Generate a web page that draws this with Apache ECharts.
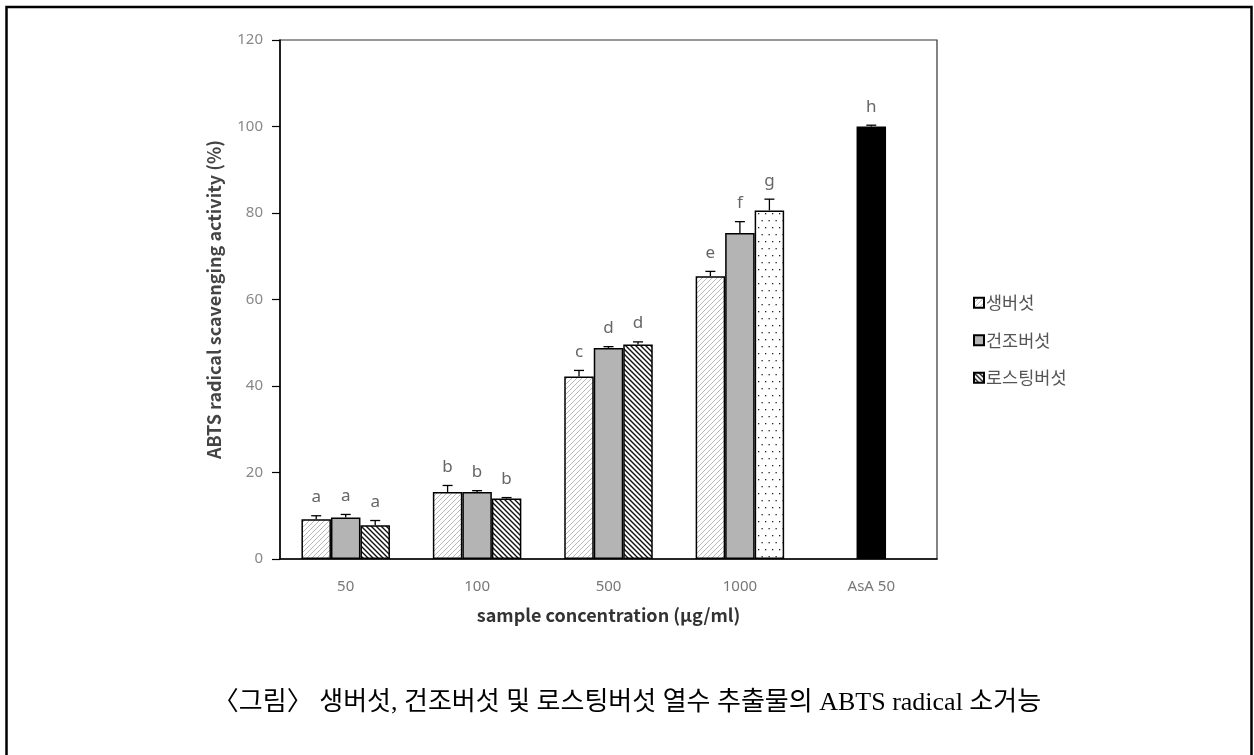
<!DOCTYPE html>
<html>
<head>
<meta charset="utf-8">
<script src="https://cdn.jsdelivr.net/npm/echarts@6/dist/echarts.min.js"></script>
<style>
  html, body { margin: 0; padding: 0; background: #fff; }
  #chart { width: 1254px; height: 755px; }
</style>
</head>
<body>
<div id="chart"></div>
<script>
// Sample concentrations (µg/ml) and the ascorbic acid reference
const categories = ['50', '100', '500', '1000', 'AsA 50'];

// ABTS radical scavenging activity (%) per extract
const rawValues    = [9.2, 15.5, 42.2, 65.4, null];
const driedValues  = [9.6, 15.5, 48.8, 75.4, 100.0];
const roastValues  = [7.8, 14.0, 49.6, 80.6, null];

// Standard deviations (upper error bars)
const rawErrors    = [0.8, 1.5, 1.4, 1.1, null];
const driedErrors  = [0.7, 0.3, 0.3, 2.6, 0.3];
const roastErrors  = [1.1, 0.2, 0.6, 2.6, null];

// Significance letters
const rawLetters   = ['a', 'b', 'c', 'e', null];
const driedLetters = ['a', 'b', 'd', 'f', 'h'];
const roastLetters = ['a', 'b', 'd', 'g', null];

const seriesNames = ['생버섯', '건조버섯', '로스팅버섯'];
const yTicks = [0, 20, 40, 60, 80, 100, 120];

const BAR_W = 29.5;
const FONT = '"Noto Sans", "Noto Sans CJK KR", sans-serif';
const KFONT = '"Noto Sans CJK KR", sans-serif';

// Fill patterns
function makePattern(w, h, draw) {
  const c = document.createElement('canvas');
  c.width = w; c.height = h;
  const ctx = c.getContext('2d');
  ctx.fillStyle = '#fff';
  ctx.fillRect(0, 0, w, h);
  draw(ctx);
  return { image: c, repeat: 'repeat' };
}
const lightSlash = makePattern(5, 5, ctx => {
  ctx.strokeStyle = '#b0b0b0';
  ctx.lineWidth = 0.9;
  ctx.beginPath();
  ctx.moveTo(-1, 6); ctx.lineTo(6, -1);
  ctx.moveTo(-1, 1); ctx.lineTo(1, -1);
  ctx.moveTo(4, 6); ctx.lineTo(6, 4);
  ctx.stroke();
});
const darkBackslash = makePattern(5, 5, ctx => {
  ctx.strokeStyle = '#111';
  ctx.lineWidth = 1.4;
  ctx.beginPath();
  ctx.moveTo(-1, -1); ctx.lineTo(6, 6);
  ctx.moveTo(4, -1); ctx.lineTo(6, 1);
  ctx.moveTo(-1, 4); ctx.lineTo(1, 6);
  ctx.stroke();
});
const dotted = makePattern(7, 14, ctx => {
  ctx.fillStyle = '#222';
  ctx.fillRect(2, 3, 1.3, 1.3);
  ctx.fillRect(5.5, 10, 1.3, 1.3);
});

const barBorder = { borderColor: '#000', borderWidth: 1.5 };

function barData(values, overrides) {
  return values.map((v, i) => {
    if (v === null) return '-';
    const o = overrides && overrides[i];
    return o ? { value: v, itemStyle: o } : v;
  });
}

// Error bar with a significance letter above it
function errorSeries(values, errors, letters, offset) {
  const data = values.map((v, i) => v === null ? null : [i, v, errors[i], letters[i]])
                     .filter(d => d !== null);
  return {
    type: 'custom',
    silent: true,
    z: 5,
    data: data,
    encode: { x: 0, y: 1 },
    renderItem: (params, api) => {
      const idx = api.value(0);
      const val = api.value(1);
      const err = api.value(2);
      const letter = data[params.dataIndex][3];
      const base = api.coord([idx, val]);
      const top = api.coord([idx, val + err]);
      const x = base[0] + offset;
      const children = [
        { type: 'line', shape: { x1: x, y1: base[1], x2: x, y2: top[1] },
          style: { stroke: '#000', lineWidth: 1.3 } },
        { type: 'line', shape: { x1: x - 5, y1: top[1], x2: x + 5, y2: top[1] },
          style: { stroke: '#000', lineWidth: 1.3 } }
      ];
      if (letter) {
        children.push({
          type: 'text',
          style: {
            text: letter, x: x, y: top[1] - 10,
            align: 'center', verticalAlign: 'bottom',
            fill: '#666', fontSize: 17, fontFamily: FONT
          }
        });
      }
      return { type: 'group', children: children };
    }
  };
}

const chart = echarts.init(document.getElementById('chart'), null, { renderer: 'canvas' });

chart.setOption({
  backgroundColor: '#fff',
  animation: false,
  grid: {
    left: 280, right: 317, top: 40, bottom: 196,
    show: true, borderColor: '#333', borderWidth: 1.2, backgroundColor: 'transparent'
  },
  legend: {
    orient: 'vertical',
    left: 968, top: 289,
    itemWidth: 10, itemHeight: 10,
    itemGap: 20,
    icon: 'rect',
    data: seriesNames,
    textStyle: { color: '#555', fontSize: 17.5, fontFamily: KFONT, padding: [0, 0, 0, -3] }
  },
  xAxis: {
    type: 'category',
    data: categories,
    name: 'sample concentration (\u03bcg/ml)',
    nameLocation: 'middle',
    nameGap: 47,
    nameTextStyle: { color: '#333', fontSize: 18, fontWeight: 'bold', fontFamily: KFONT },
    axisLine: { lineStyle: { color: '#000', width: 1.5 } },
    axisTick: { show: false },
    axisLabel: { color: '#777', fontSize: 15, margin: 20, fontFamily: FONT }
  },
  yAxis: {
    type: 'value',
    min: yTicks[0], max: yTicks[yTicks.length - 1], interval: 20,
    name: 'ABTS radical scavenging activity (%)',
    nameLocation: 'middle',
    nameGap: 57,
    nameTextStyle: { color: '#444', fontSize: 18, fontWeight: 'bold', fontFamily: KFONT },
    axisLine: { show: true, lineStyle: { color: '#000', width: 1.5 } },
    axisTick: { show: true, length: 8, lineStyle: { color: '#000', width: 1.2 } },
    axisLabel: { color: '#888', fontSize: 15, margin: 17, fontFamily: FONT },
    splitLine: { show: false }
  },
  series: [
    {
      name: seriesNames[0], type: 'bar', barWidth: BAR_W, barGap: '0%',
      itemStyle: Object.assign({ color: lightSlash }, barBorder),
      data: barData(rawValues)
    },
    {
      name: seriesNames[1], type: 'bar', barWidth: BAR_W, barGap: '0%',
      itemStyle: Object.assign({ color: '#b4b4b4' }, barBorder),
      data: barData(driedValues, { 4: { color: '#000', borderColor: '#000' } })
    },
    {
      name: seriesNames[2], type: 'bar', barWidth: BAR_W, barGap: '0%',
      itemStyle: Object.assign({ color: darkBackslash }, barBorder),
      data: barData(roastValues, { 3: { color: dotted } })
    },
    errorSeries(rawValues, rawErrors, rawLetters, -BAR_W),
    errorSeries(driedValues, driedErrors, driedLetters, 0),
    errorSeries(roastValues, roastErrors, roastLetters, BAR_W)
  ],
  graphic: [
    {
      type: 'rect', silent: true,
      shape: { x: 6.5, y: 7, width: 1245, height: 800 },
      style: { fill: 'none', stroke: '#000', lineWidth: 2.5 }
    },
    {
      type: 'text', silent: true,
      left: 'center', top: 690,
      style: {
        text: '〈그림〉 생버섯, 건조버섯 및 로스팅버섯 열수 추출물의 ABTS radical 소거능',
        fill: '#000', fontSize: 26,
        fontFamily: '"Liberation Serif", "Noto Sans CJK KR", serif'
      }
    }
  ]
});
</script>
</body>
</html>
